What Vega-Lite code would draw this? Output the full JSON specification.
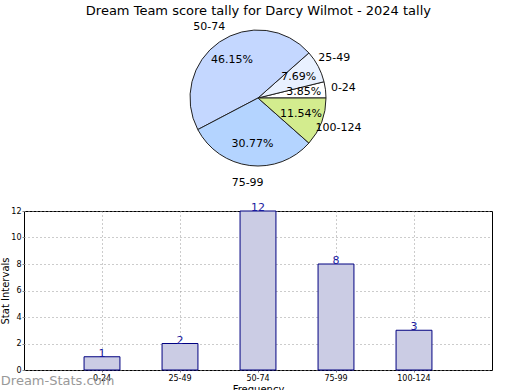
{
  "$schema": "https://vega.github.io/schema/vega-lite/v6.json",
  "padding": {"left": 0, "top": 5, "right": 0, "bottom": 0},
  "bounds": "flush",
  "config": {
    "font": "DejaVu Sans",
    "title": {"fontSize": 13, "fontWeight": "normal", "color": "#000"},
    "axis": {"labelColor": "#000", "titleColor": "#000", "titleFontWeight": "normal"}
  },
  "title": {"text": "Dream Team score tally for Darcy Wilmot - 2024 tally", "anchor": "middle", "dx": 12, "offset": 3},
  "datasets": {
    "tally": [
      {"k": 1, "range": "0-24", "count": 1, "pct": "3.85%"},
      {"k": 2, "range": "25-49", "count": 2, "pct": "7.69%"},
      {"k": 3, "range": "50-74", "count": 12, "pct": "46.15%"},
      {"k": 4, "range": "75-99", "count": 8, "pct": "30.77%"},
      {"k": 5, "range": "100-124", "count": 3, "pct": "11.54%"}
    ]
  },
  "spacing": 38,
  "vconcat": [
    {
      "width": 468,
      "height": 150,
      "view": {"stroke": null},
      "data": {"name": "tally"},
      "encoding": {
        "theta": {"field": "count", "type": "quantitative", "stack": true, "scale": {"range": [1.5708, 7.854]}},
        "order": {"field": "k", "type": "quantitative", "sort": "descending"}
      },
      "layer": [
        {"mark": {"type": "arc", "outerRadius": 68, "stroke": "#222", "strokeWidth": 1},
         "encoding": {"color": {"field": "range", "type": "nominal", "sort": ["0-24", "25-49", "50-74", "75-99", "100-124"],
          "scale": {"domain": ["0-24", "25-49", "50-74", "75-99", "100-124"], "range": ["#ffffff", "#e9f1ff", "#c4d7ff", "#b4d4ff", "#d3ec8e"]},
          "legend": null}}},
        {"mark": {"type": "text", "radius": 46, "fontSize": 11, "color": "#000"}, "encoding": {"text": {"field": "pct"}}},
        {"mark": {"type": "text", "radius": 86, "fontSize": 11, "color": "#000"}, "encoding": {"text": {"field": "range"}}}
      ]
    },
    {
      "width": 468,
      "height": 159,
      "view": {"stroke": "#000", "strokeWidth": 1},
      "data": {"name": "tally"},
      "title": {"text": "Dream-Stats.com", "orient": "bottom", "anchor": "start", "frame": "bounds", "color": "#999999", "fontSize": 13, "fontWeight": 500, "offset": -19},
      "encoding": {
        "x": {"field": "range", "type": "nominal", "sort": null,
          "scale": {"paddingInner": 0.54, "paddingOuter": 0.77},
          "axis": {"labelAngle": 0, "labelFontSize": 8, "title": "Frequency", "titleFontSize": 10, "titlePadding": 2,
            "grid": true, "gridDash": [1, 3], "gridColor": "#999", "bandPosition": 0.5, "domain": false, "tickSize": 2, "tickColor": "#888", "labelPadding": 2}},
        "y": {"field": "count", "type": "quantitative",
          "scale": {"domain": [0, 12], "nice": false},
          "axis": {"values": [0, 2, 4, 6, 8, 10, 12], "labelFontSize": 8, "title": "Stat Intervals", "titleFontSize": 10, "titlePadding": 0,
            "grid": true, "gridDash": [1, 3], "gridColor": "#999", "domain": false, "tickSize": 2, "tickColor": "#888", "labelPadding": 1}}
      },
      "layer": [
        {"mark": {"type": "bar", "fill": "#cbcce4", "stroke": "#000080", "strokeWidth": 1}},
        {"mark": {"type": "text", "baseline": "bottom", "dy": 2, "fontSize": 11, "color": "#1a1aa0"}, "encoding": {"text": {"field": "count"}}}
      ]
    }
  ]
}
